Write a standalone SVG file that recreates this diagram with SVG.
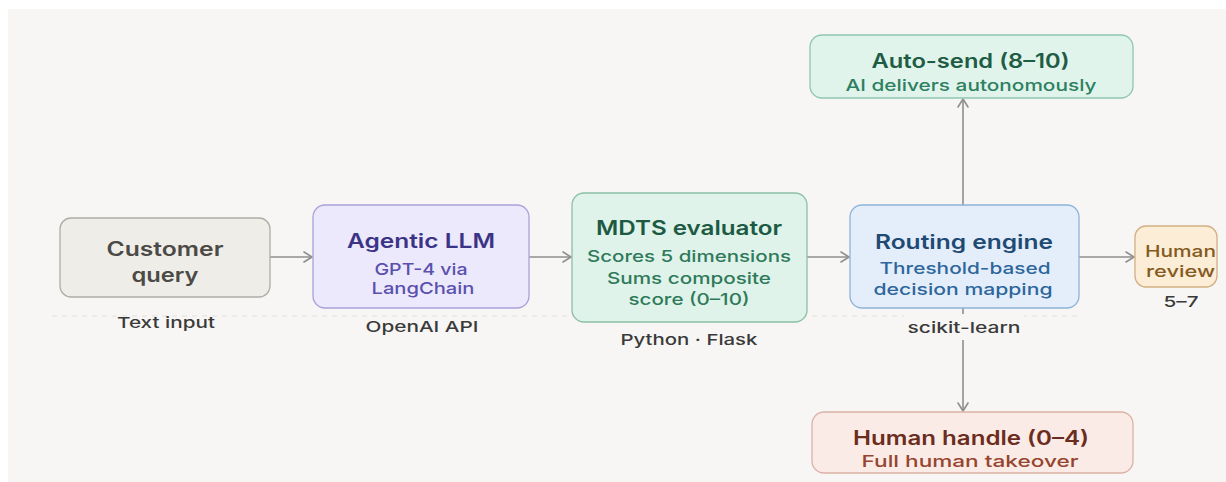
<svg xmlns="http://www.w3.org/2000/svg" width="1226" height="482" viewBox="0 0 1226 482">
  <defs>
    <marker id="arrow" viewBox="0 0 10 12" refX="9" refY="6" markerWidth="10" markerHeight="12" markerUnits="userSpaceOnUse" orient="auto">
      <path d="M1,1 L9,6 L1,11" fill="none" stroke="#8f8f8f" stroke-width="1.6" stroke-linecap="round" stroke-linejoin="round"/>
    </marker>
    <style>
      text { font-family: "Inter", "Liberation Sans", "DejaVu Sans", sans-serif; text-anchor: middle; }
      .title { font-size: 19.5px; font-weight: 600; }
      .sub { font-size: 16.5px; font-weight: 500; }
      .note { font-size: 15px; font-weight: 500; fill: #3a3a3a; }
      .box { stroke-width: 1.3; }
      .edge { fill: none; stroke: #8f8f8f; stroke-width: 1.6; marker-end: url(#arrow); }
    </style>
  </defs>

  <!-- canvas -->
  <rect x="0" y="0" width="1226" height="482" fill="#ffffff"/>
  <rect x="8" y="9" width="1218" height="473" fill="#f7f6f4"/>
  <!-- tier divider -->
  <line x1="52" y1="316" x2="1082" y2="316" stroke="#e2e0dc" stroke-width="1.2" stroke-dasharray="5 5"/>

  <!-- connectors -->
  <g id="connectors">
    <line class="edge" x1="270" y1="257" x2="312" y2="257"/>
    <line class="edge" x1="529" y1="257" x2="571" y2="257"/>
    <line class="edge" x1="807" y1="257" x2="849" y2="257"/>
    <line class="edge" x1="1079" y1="257" x2="1134" y2="257"/>
    <line class="edge" x1="963" y1="205" x2="963" y2="99"/>
    <line class="edge" x1="963" y1="308" x2="963" y2="411"/>
  </g>

  <g id="customer-query">
    <rect class="box" x="60" y="218" width="210" height="79" rx="11" fill="#efede8" stroke="#b0ada6"/>
    <text class="title" x="165" y="256" fill="#4b4a46" textLength="117" lengthAdjust="spacingAndGlyphs">Customer</text>
    <text class="title" x="165" y="281.5" fill="#4b4a46" textLength="67" lengthAdjust="spacingAndGlyphs">query</text>
    <text class="note" x="166" y="328" textLength="98" lengthAdjust="spacingAndGlyphs">Text input</text>
  </g>

  <g id="agentic-llm">
    <rect class="box" x="313" y="205" width="216" height="103" rx="12" fill="#ece9fc" stroke="#aaa1dc"/>
    <text class="title" x="421" y="248" fill="#3b3486" textLength="148" lengthAdjust="spacingAndGlyphs">Agentic LLM</text>
    <text class="sub" x="421" y="275" fill="#5a51ae" textLength="93" lengthAdjust="spacingAndGlyphs">GPT-4 via</text>
    <text class="sub" x="423" y="294" fill="#5a51ae" textLength="103" lengthAdjust="spacingAndGlyphs">LangChain</text>
    <text class="note" x="422" y="332" textLength="113" lengthAdjust="spacingAndGlyphs">OpenAI API</text>
  </g>

  <g id="mdts-evaluator">
    <rect class="box" x="572" y="193" width="235" height="129" rx="12" fill="#dff3ea" stroke="#8cc0a7"/>
    <text class="title" x="689" y="235" fill="#1d5a43" textLength="186" lengthAdjust="spacingAndGlyphs">MDTS evaluator</text>
    <text class="sub" x="689" y="261.5" fill="#2f7a5a" textLength="204" lengthAdjust="spacingAndGlyphs">Scores 5 dimensions</text>
    <text class="sub" x="689" y="283.5" fill="#2f7a5a" textLength="164" lengthAdjust="spacingAndGlyphs">Sums composite</text>
    <text class="sub" x="689" y="305" fill="#2f7a5a" textLength="121" lengthAdjust="spacingAndGlyphs">score (0–10)</text>
    <text class="note" x="689" y="345" textLength="137" lengthAdjust="spacingAndGlyphs">Python · Flask</text>
  </g>

  <g id="routing-engine">
    <rect class="box" x="850" y="205" width="229" height="103" rx="12" fill="#e3eefa" stroke="#8fb3d9"/>
    <text class="title" x="964" y="249" fill="#1f4a74" textLength="178" lengthAdjust="spacingAndGlyphs">Routing engine</text>
    <text class="sub" x="965" y="274" fill="#2e669c" textLength="171" lengthAdjust="spacingAndGlyphs">Threshold-based</text>
    <text class="sub" x="963" y="295" fill="#2e669c" textLength="179" lengthAdjust="spacingAndGlyphs">decision mapping</text>
    <rect x="904" y="314" width="120" height="26" fill="#f7f6f4"/>
    <text class="note" x="964" y="333" textLength="113" lengthAdjust="spacingAndGlyphs">scikit-learn</text>
  </g>

  <g id="human-review">
    <rect class="box" x="1135" y="226" width="82" height="61" rx="11" fill="#fbedd6" stroke="#d2b083"/>
    <text class="sub" x="1180.5" y="257" fill="#855a20" textLength="71" lengthAdjust="spacingAndGlyphs">Human</text>
    <text class="sub" x="1180.5" y="277" fill="#855a20" textLength="69" lengthAdjust="spacingAndGlyphs">review</text>
    <text class="note" x="1181" y="307" textLength="35" lengthAdjust="spacingAndGlyphs">5–7</text>
  </g>

  <g id="auto-send">
    <rect class="box" x="810" y="35" width="323" height="63" rx="12" fill="#e0f4ec" stroke="#8fc7ae"/>
    <text class="title" x="970.5" y="68" fill="#1f5c44" textLength="198" lengthAdjust="spacingAndGlyphs">Auto-send (8–10)</text>
    <text class="sub" x="971" y="91" fill="#2d8060" textLength="251" lengthAdjust="spacingAndGlyphs">AI delivers autonomously</text>
  </g>

  <g id="human-handle">
    <rect class="box" x="812" y="412" width="321" height="61" rx="12" fill="#fbebe6" stroke="#dcb2a7"/>
    <text class="title" x="971" y="445" fill="#6b2d20" textLength="236" lengthAdjust="spacingAndGlyphs">Human handle (0–4)</text>
    <text class="sub" x="970" y="467" fill="#96452f" textLength="217" lengthAdjust="spacingAndGlyphs">Full human takeover</text>
  </g>
</svg>
